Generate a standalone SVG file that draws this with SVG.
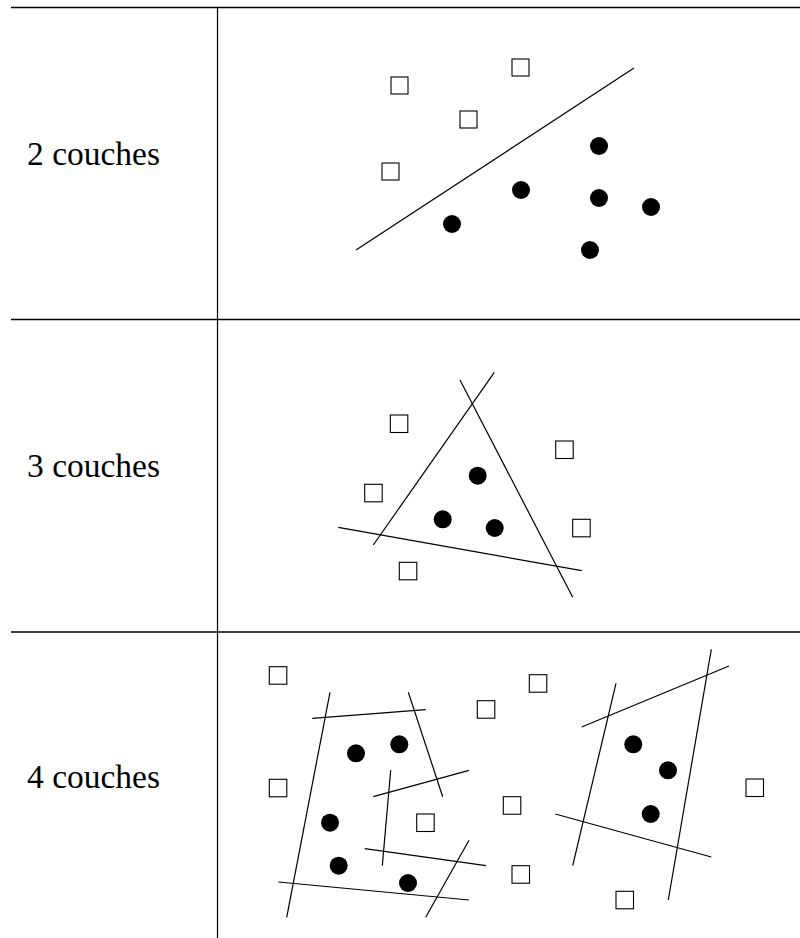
<svg xmlns="http://www.w3.org/2000/svg" width="800" height="938" viewBox="0 0 800 938">
<style>
.grid{stroke:#000;stroke-width:1.5;fill:none}
.vline{stroke:#000;stroke-width:1.2;fill:none}
.sep{stroke:#000;stroke-width:1.2;fill:none}
.sq{fill:#fff;stroke:#000;stroke-width:1.1}
.dot{fill:#000}
.lbl{font-family:"Liberation Serif","Times New Roman",Times,serif;font-size:33.5px;fill:#000}
</style>
<rect width="800" height="938" fill="#fff"/>
<g id="table">
<line class="grid" x1="11" y1="7.5" x2="800" y2="7.5"/>
<line class="grid" x1="11" y1="319.5" x2="800" y2="319.5"/>
<line class="grid" x1="11" y1="632" x2="800" y2="632"/>
<line class="vline" x1="217.5" y1="7.5" x2="217.5" y2="938"/>
</g>
<g id="labels">
<text class="lbl" x="27" y="164.5">2 couches</text>
<text class="lbl" x="27" y="476.5">3 couches</text>
<text class="lbl" x="27" y="788">4 couches</text>
</g>
<g id="row2">
<g id="r2-separators"><line class="sep" x1="356" y1="250" x2="634" y2="68"/></g>
<rect class="sq" x="391" y="77" width="17" height="17"/>
<rect class="sq" x="512" y="59" width="17" height="17"/>
<rect class="sq" x="460" y="111" width="17" height="17"/>
<rect class="sq" x="382" y="163" width="17" height="17"/>
<circle class="dot" cx="599" cy="146" r="9"/>
<circle class="dot" cx="521" cy="190" r="9"/>
<circle class="dot" cx="599" cy="198" r="9"/>
<circle class="dot" cx="651" cy="207" r="9"/>
<circle class="dot" cx="452" cy="224" r="9"/>
<circle class="dot" cx="590" cy="250" r="9"/>
</g>
<g id="row3">
<g id="r3-separators">
<line class="sep" x1="373.3" y1="545" x2="494.3" y2="372.3"/>
<line class="sep" x1="460" y1="380" x2="572.7" y2="597.3"/>
<line class="sep" x1="338.3" y1="527.3" x2="581.7" y2="570.7"/>
</g>
<rect class="sq" x="390.3" y="415" width="17.5" height="17.5"/>
<rect class="sq" x="555.7" y="441" width="17.5" height="17.5"/>
<rect class="sq" x="364.7" y="484.3" width="17.5" height="17.5"/>
<rect class="sq" x="572.7" y="519.3" width="17.5" height="17.5"/>
<rect class="sq" x="399.3" y="562.3" width="17.5" height="17.5"/>
<circle class="dot" cx="477.7" cy="475.7" r="9"/>
<circle class="dot" cx="442.7" cy="519.3" r="9"/>
<circle class="dot" cx="494.7" cy="528" r="9"/>
</g>
<g id="row4">
<g id="r4-separators">
<line class="sep" x1="330" y1="692.3" x2="286.7" y2="917.3"/>
<line class="sep" x1="312.3" y1="718.3" x2="425.7" y2="709.7"/>
<line class="sep" x1="408.3" y1="692.3" x2="442.7" y2="796.7"/>
<line class="sep" x1="373.3" y1="796.7" x2="469" y2="770.3"/>
<line class="sep" x1="390.7" y1="770.3" x2="382.3" y2="865.7"/>
<line class="sep" x1="364.7" y1="848.7" x2="486" y2="865.7"/>
<line class="sep" x1="469" y1="840.3" x2="425.7" y2="917.3"/>
<line class="sep" x1="278.3" y1="882" x2="469" y2="900"/>
<line class="sep" x1="616" y1="683.3" x2="572.7" y2="865.7"/>
<line class="sep" x1="581.7" y1="727" x2="729" y2="666"/>
<line class="sep" x1="711.3" y1="649.3" x2="668.3" y2="900"/>
<line class="sep" x1="555.3" y1="814" x2="711.3" y2="857"/>
</g>
<rect class="sq" x="269.3" y="666.7" width="17.5" height="17.5"/>
<rect class="sq" x="269.3" y="779.3" width="17.5" height="17.5"/>
<rect class="sq" x="477.3" y="700.7" width="17.5" height="17.5"/>
<rect class="sq" x="416.7" y="814" width="17.5" height="17.5"/>
<rect class="sq" x="529.3" y="674.7" width="17.5" height="17.5"/>
<rect class="sq" x="503.3" y="796.7" width="17.5" height="17.5"/>
<rect class="sq" x="512" y="865.7" width="17.5" height="17.5"/>
<rect class="sq" x="616" y="891.3" width="17.5" height="17.5"/>
<rect class="sq" x="746" y="779" width="17.5" height="17.5"/>
<circle class="dot" cx="356" cy="753.3" r="9"/>
<circle class="dot" cx="399.3" cy="744.3" r="9"/>
<circle class="dot" cx="330" cy="822.7" r="9"/>
<circle class="dot" cx="338.7" cy="865.7" r="9"/>
<circle class="dot" cx="408" cy="883" r="9"/>
<circle class="dot" cx="633.3" cy="744.3" r="9"/>
<circle class="dot" cx="668" cy="770.3" r="9"/>
<circle class="dot" cx="650.7" cy="814" r="9"/>
</g>
</svg>
